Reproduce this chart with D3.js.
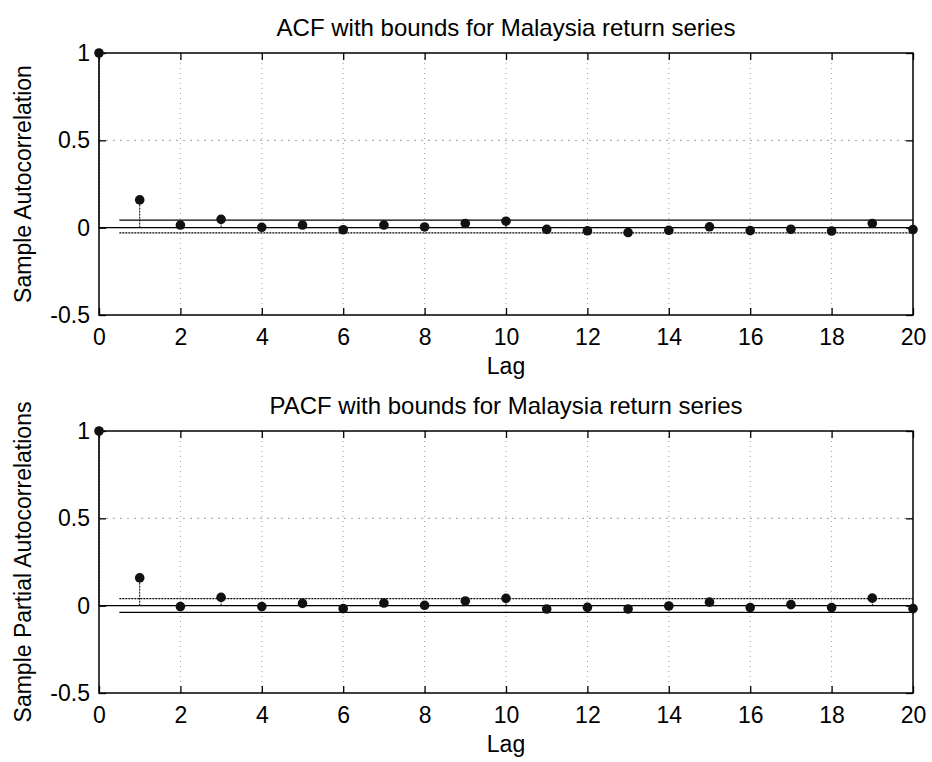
<!DOCTYPE html>
<html>
<head>
<meta charset="utf-8">
<script src="https://cdn.jsdelivr.net/npm/d3@7"></script>
<style>
  body { margin: 0; background: #fff; }
  text { font-family: "Liberation Sans", Arial, sans-serif; fill: #000; }
</style>
</head>
<body>
<div id="chart"></div>
<script>
// datos
const lags = [0, 1, 2, 3, 4, 5, 6, 7, 8, 9, 10, 11, 12, 13, 14, 15, 16, 17, 18, 19, 20];
const acfValues = [1, 0.159, 0.015, 0.048, 0.002, 0.015, -0.012, 0.015, 0.004, 0.024, 0.037,
  -0.01, -0.018, -0.028, -0.015, 0.005, -0.017, -0.009, -0.019, 0.024, -0.011];
const pacfValues = [1, 0.159, -0.005, 0.048, -0.005, 0.013, -0.017, 0.015, 0.002, 0.027, 0.042,
  -0.019, -0.01, -0.019, -0.002, 0.02, -0.011, 0.006, -0.011, 0.043, -0.017];
const acfBounds = [0.043, -0.03];
const pacfBounds = [0.04, -0.038];
const xTicks = [0, 2, 4, 6, 8, 10, 12, 14, 16, 18, 20];
const yTicks = [-0.5, 0, 0.5, 1];
const titles = ["ACF with bounds for Malaysia return series", "PACF with bounds for Malaysia return series"];
const yLabels = ["Sample Autocorrelation", "Sample Partial Autocorrelations"];

const width = 932;
const height = 762;
const left = 99, right = 913;
const fs = 23;

const svg = d3.select("#chart").append("svg")
  .attr("width", width)
  .attr("height", height);

const x = d3.scaleLinear([0, 20], [left, right]);

function panel(top, bottom, values, bounds, title, ylabel) {
  const y = d3.scaleLinear([-0.5, 1], [bottom, top]);
  const g = svg.append("g");

  // rejilla punteada
  g.append("g").selectAll("line")
    .data(xTicks.slice(1, -1))
    .join("line")
    .attr("x1", d => x(d)).attr("x2", d => x(d))
    .attr("y1", top).attr("y2", bottom)
    .attr("stroke", "#888").attr("stroke-width", 0.8)
    .attr("stroke-dasharray", "1,4");
  g.append("g").selectAll("line")
    .data([0.5, 0])
    .join("line")
    .attr("x1", left).attr("x2", right)
    .attr("y1", d => y(d)).attr("y2", d => y(d))
    .attr("stroke", "#888").attr("stroke-width", 0.8)
    .attr("stroke-dasharray", "2,5");

  // ejes estilo MATLAB: ticks hacia dentro en los 4 lados
  g.append("g")
    .attr("transform", `translate(0,${bottom})`)
    .call(d3.axisBottom(x).tickValues(xTicks).tickSize(-7).tickPadding(14).tickFormat(d3.format("d")))
    .call(a => a.select(".domain").remove())
    .call(a => a.selectAll("text").attr("font-size", fs).attr("dy", "0.71em"));
  g.append("g")
    .attr("transform", `translate(0,${top})`)
    .call(d3.axisTop(x).tickValues(xTicks).tickSize(-7).tickFormat(""))
    .call(a => a.select(".domain").remove());
  g.append("g")
    .attr("transform", `translate(${left},0)`)
    .call(d3.axisLeft(y).tickValues(yTicks).tickSize(-7).tickPadding(9).tickFormat(d => d))
    .call(a => a.select(".domain").remove())
    .call(a => a.selectAll("text").attr("font-size", fs));
  g.append("g")
    .attr("transform", `translate(${right},0)`)
    .call(d3.axisRight(y).tickValues(yTicks).tickSize(-7).tickFormat(""))
    .call(a => a.select(".domain").remove());
  g.selectAll(".tick line").attr("stroke", "#000").attr("stroke-width", 1.3);

  g.append("rect")
    .attr("x", left).attr("y", top)
    .attr("width", right - left).attr("height", bottom - top)
    .attr("fill", "none").attr("stroke", "#000").attr("stroke-width", 1.5);

  // línea base y límites
  g.append("line")
    .attr("x1", x(0)).attr("x2", x(20))
    .attr("y1", y(0)).attr("y2", y(0))
    .attr("stroke", "#000").attr("stroke-width", 1.3);
  g.append("line")
    .attr("x1", x(0.5)).attr("x2", x(20))
    .attr("y1", y(bounds[0])).attr("y2", y(bounds[0]))
    .attr("stroke", "#000").attr("stroke-width", 1.3)
    .attr("stroke-dasharray", top < 200 ? null : "2,1");
  g.append("line")
    .attr("x1", x(0.5)).attr("x2", x(20))
    .attr("y1", y(bounds[1])).attr("y2", y(bounds[1]))
    .attr("stroke", "#000").attr("stroke-width", 1.3)
    .attr("stroke-dasharray", top < 200 ? "2,1" : null);

  // tallos y marcadores
  g.append("g").selectAll("line")
    .data(lags)
    .join("line")
    .attr("x1", d => x(d)).attr("x2", d => x(d))
    .attr("y1", y(0)).attr("y2", (d, i) => y(values[i]))
    .attr("stroke", "#000").attr("stroke-width", 1)
    .attr("stroke-dasharray", "2,1");
  g.append("g").selectAll("circle")
    .data(lags)
    .join("circle")
    .attr("cx", d => x(d))
    .attr("cy", (d, i) => y(values[i]))
    .attr("r", 4.8)
    .attr("fill", "#111");

  // textos
  g.append("text")
    .attr("x", (left + right) / 2).attr("y", top - 17)
    .attr("text-anchor", "middle").attr("font-size", 24)
    .text(title);
  g.append("text")
    .attr("x", (left + right) / 2).attr("y", bottom + 59)
    .attr("text-anchor", "middle").attr("font-size", fs)
    .text("Lag");
  g.append("text")
    .attr("transform", `translate(31,${(top + bottom) / 2}) rotate(-90)`)
    .attr("text-anchor", "middle").attr("font-size", fs)
    .text(ylabel);
}

panel(53, 315, acfValues, acfBounds, titles[0], yLabels[0]);
panel(431, 693, pacfValues, pacfBounds, titles[1], yLabels[1]);
</script>
</body>
</html>
